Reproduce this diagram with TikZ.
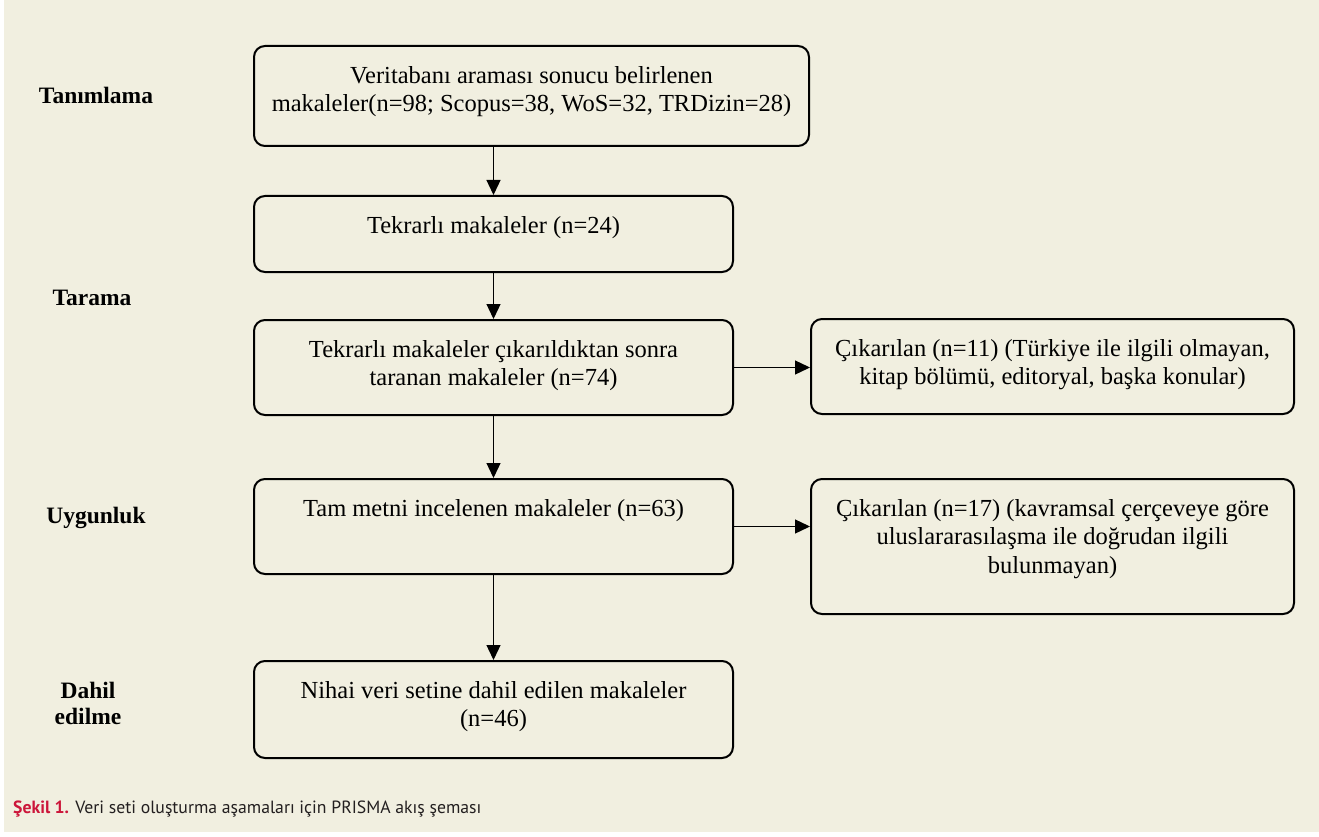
\documentclass[tikz,border=0pt]{standalone}
\usepackage{fontspec}
\setmainfont{Liberation Serif}
\newfontfamily\altyazi{PT Sans}
\usetikzlibrary{positioning,calc,arrows.meta}
\definecolor{zemin}{RGB}{241,239,224}
\definecolor{sekilrenk}{RGB}{204,22,58}
\definecolor{koyu}{RGB}{35,31,32}
\tikzset{
	kutu/.style={draw, line width=2pt, rounded corners=11pt, anchor=north west, inner sep=0pt},
	yazi/.style={align=center, font=\fontsize{24.5}{28.4}\selectfont, inner sep=0pt, anchor=north, yshift=-21pt},
	evre/.style={align=center, font=\fontsize{23.5}{26}\selectfont\bfseries, inner sep=0pt},
	ok/.style={line width=1.3pt, -{Triangle[length=15pt,width=14pt]}},
}

\begin{document}
\begin{tikzpicture}[x=1pt,y=-1pt]
		\useasboundingbox (0,0) rectangle (1319,837);
		\fill[white] (0,0) rectangle (1319,837);
		\fill[zemin] (4,0) rectangle (1319,832);
		
		% ana kutular
		\node[kutu, minimum width=555pt, minimum height=100pt,
			label={[yazi]north:Veritabanı araması sonucu belirlenen\\makaleler(n=98; Scopus=38, WoS=32, TRDizin=28)}] (veri) at (253,45) {};
		\node[kutu, minimum width=479pt, minimum height=76pt,
			label={[yazi]north:Tekrarlı makaleler (n=24)}] (tekrar) at (253,195) {};
		\node[kutu, minimum width=479pt, minimum height=95pt,
			label={[yazi]north:Tekrarlı makaleler çıkarıldıktan sonra\\taranan makaleler (n=74)}] (taranan) at (253,319) {};
		\node[kutu, minimum width=479pt, minimum height=95pt,
			label={[yazi]north:Tam metni incelenen makaleler (n=63)}] (tam) at (253,478) {};
		\node[kutu, minimum width=479pt, minimum height=97pt,
			label={[yazi]north:Nihai veri setine dahil edilen makaleler\\(n=46)}] (nihai) at (253,660) {};
		
		% cikarilanlar
		\node[kutu, minimum width=483pt, minimum height=95pt,
			label={[yazi]north:Çıkarılan (n=11) (Türkiye ile ilgili olmayan,\\kitap bölümü, editoryal, başka konular)}] (cik1) at (810,318) {};
		\node[kutu, minimum width=483pt, minimum height=135pt,
			label={[yazi]north:Çıkarılan (n=17) (kavramsal çerçeveye göre\\uluslararasılaşma ile doğrudan ilgili\\bulunmayan)}] (cik2) at (810,478) {};
		
		% evreler
		\node[evre] (tanim) at (96,95) {Tanımlama};
		\node[evre] (tarama) at (92,298) {Tarama};
		\node[evre] (uygun) at (96,518) {Uygunluk};
		\node[evre] (dahil) at (88,703) {Dahil\\edilme};
		
		% oklar
		\draw[ok] (tekrar.north |- veri.south) -- (tekrar.north);
		\draw[ok] (tekrar.south) -- (taranan.north);
		\draw[ok] (taranan.south) -- (tam.north);
		\draw[ok] (tam.south) -- (nihai.north);
		\draw[ok] (taranan.east) -- (cik1.west |- taranan.east);
		\draw[ok] (tam.east) -- (cik2.west |- tam.east);
		
		\node[anchor=base west, inner sep=0pt, text=koyu, font=\altyazi\fontsize{17.7}{21}\selectfont] (sekil) at (13,813)
			{\textcolor{sekilrenk}{\bfseries Şekil 1.} Veri seti oluşturma aşamaları için PRISMA akış şeması};
	\end{tikzpicture}
\end{document}
